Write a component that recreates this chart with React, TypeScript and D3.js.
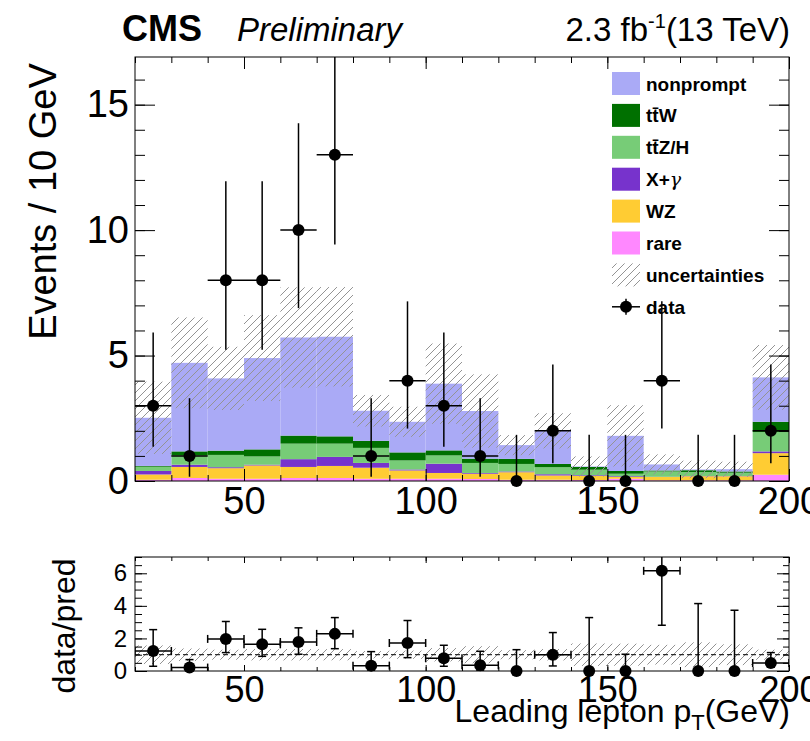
import React, { useEffect, useRef } from "react";
import * as d3 from "d3";

// bins of 10 GeV, lower edges
const binLow = [20, 30, 40, 50, 60, 70, 80, 90, 100, 110, 120, 130, 140, 150, 160, 170, 180, 190];

// stacked backgrounds (events / bin), bottom to top: rare, WZ, X+gamma, ttZ/H, ttW, nonprompt
const rare = [0.05, 0.12, 0.09, 0.09, 0.12, 0.12, 0.09, 0.09, 0.09, 0.08, 0.05, 0.05, 0.04, 0.09, 0.03, 0.03, 0.03, 0.25];
const wz = [0.21, 0.44, 0.42, 0.53, 0.44, 0.48, 0.44, 0.33, 0.23, 0.21, 0.3, 0.17, 0.16, 0.07, 0.13, 0.16, 0.16, 0.86];
const xGamma = [0.14, 0.09, 0.04, 0.03, 0.31, 0.36, 0.19, 0.04, 0.37, 0.03, 0.03, 0.05, 0.03, 0.03, 0.01, 0.01, 0.01, 0.07];
const ttZH = [0.17, 0.37, 0.49, 0.33, 0.62, 0.53, 0.6, 0.36, 0.33, 0.4, 0.3, 0.28, 0.22, 0.1, 0.21, 0.16, 0.13, 0.77];
const ttW = [0.03, 0.16, 0.17, 0.28, 0.32, 0.29, 0.28, 0.32, 0.2, 0.17, 0.2, 0.13, 0.11, 0.11, 0.04, 0.07, 0.05, 0.41];
const nonprompt = [1.92, 3.53, 2.88, 3.64, 3.91, 3.97, 1.2, 1.22, 2.66, 1.9, 0.55, 1.32, 0.02, 1.4, 0.24, 0.03, 0.09, 1.77];
const uncert = [1.44, 1.81, 1.26, 1.71, 2.0, 1.98, 0.63, 0.6, 1.6, 1.46, 0.4, 0.7, 0.4, 1.22, 0.4, 0.35, 0.3, 1.29];

// observed data with asymmetric (Poisson) errors
const dataCounts = [3, 1, 8, 8, 10, 13, 1, 4, 3, 1, 0, 2, 0, 0, 4, 0, 0, 2];
const dataErrLow = [1.63, 0.83, 2.77, 2.77, 3.11, 3.57, 0.83, 1.91, 1.63, 0.83, 0, 1.29, 0, 0, 1.91, 0, 0, 1.29];
const dataErrHigh = [2.92, 2.3, 3.95, 3.95, 4.26, 4.7, 2.3, 3.16, 2.92, 2.3, 1.84, 2.64, 1.84, 1.84, 3.16, 1.84, 1.84, 2.64];

// data / prediction as drawn in the lower panel
const ratioVal = [1.23, 0.21, 1.97, 1.64, 1.78, 2.28, 0.33, 1.72, 0.78, 0.35, 0, 1.0, 0, 0, 6.15, 0, 0, 0.49];
const ratioLow = [0.29, 0.04, 1.13, 0.9, 1.03, 1.37, 0.05, 0.82, 0.29, 0.05, 0, 0.31, 0, 0, 2.81, 0, 0, 0.25];
const ratioHigh = [2.54, 0.7, 3.04, 2.56, 2.65, 3.28, 1.19, 3.1, 1.58, 1.21, 1.31, 2.36, 3.28, 1.03, 10.8, 4.14, 3.73, 1.13];

const legendLabels = ["nonprompt", "ttW", "ttZ/H", "X+γ", "WZ", "rare", "uncertainties", "data"];
const xMajorTicks = [50, 100, 150, 200];
const xMinorTicks = [20, 30, 40, 50, 60, 70, 80, 90, 100, 110, 120, 130, 140, 150, 160, 170, 180, 190, 200];
const yMajorTicks = [0, 5, 10, 15];
const yMinorTicks = [0, 1, 2, 3, 4, 5, 6, 7, 8, 9, 10, 11, 12, 13, 14, 15, 16];
const rMajorTicks = [0, 2, 4, 6];
const rMinorTicks = [0, 0.5, 1, 1.5, 2, 2.5, 3, 3.5, 4, 4.5, 5, 5.5, 6, 6.5, 7];

const FONT = "'Liberation Sans', Arial, Helvetica, sans-serif";

const App = () => {
  const ref = useRef<SVGSVGElement>(null);

  useEffect(() => {
    const svg = d3.select(ref.current);
    svg.selectAll("*").remove();

    const W = 810, H = 741;
    const L = 135, R = 789;
    const mainTop = 57, mainBot = 481;
    const ratTop = 557, ratBot = 671;

    const x = d3.scaleLinear().domain([20, 200]).range([L, R]);
    const y = d3.scaleLinear().domain([0, 16.9]).range([mainBot, mainTop]);
    const yr = d3.scaleLinear().domain([0, 7]).range([ratBot, ratTop]);

    const colors: Record<string, string> = {
      rare: "#ff88ff",
      wz: "#ffcc33",
      xGamma: "#7733cc",
      ttZH: "#77cc77",
      ttW: "#007000",
      nonprompt: "#aaaaf6",
    };
    const keys = ["rare", "wz", "xGamma", "ttZH", "ttW", "nonprompt"];
    const rows = binLow.map((lo, i) => ({
      lo,
      rare: rare[i],
      wz: wz[i],
      xGamma: xGamma[i],
      ttZH: ttZH[i],
      ttW: ttW[i],
      nonprompt: nonprompt[i],
    }));
    const series = d3.stack<any>().keys(keys)(rows);
    const totals = rows.map((r) => keys.reduce((s, k) => s + (r as any)[k], 0));

    svg.attr("width", W).attr("height", H).style("background", "#fff");

    const defs = svg.append("defs");
    const pat = defs
      .append("pattern")
      .attr("id", "hatch")
      .attr("patternUnits", "userSpaceOnUse")
      .attr("width", 8)
      .attr("height", 8);
    pat
      .append("path")
      .attr("d", "M-2,2 L2,-2 M0,8 L8,0 M6,10 L10,6")
      .attr("stroke", "#949494")
      .attr("stroke-width", 1);
    defs
      .append("clipPath")
      .attr("id", "clipMain")
      .append("rect")
      .attr("x", L)
      .attr("y", mainTop)
      .attr("width", R - L)
      .attr("height", mainBot - mainTop);
    defs
      .append("clipPath")
      .attr("id", "clipRat")
      .append("rect")
      .attr("x", L)
      .attr("y", ratTop)
      .attr("width", R - L)
      .attr("height", ratBot - ratTop);

    // ---- main panel: stacked histogram
    const main = svg.append("g");
    main
      .append("g")
      .selectAll("g")
      .data(series)
      .join("g")
      .attr("fill", (d) => colors[d.key])
      .selectAll("rect")
      .data((d) => d)
      .join("rect")
      .attr("x", (d: any) => x(d.data.lo))
      .attr("width", (d: any) => x(d.data.lo + 10) - x(d.data.lo))
      .attr("y", (d) => y(d[1]))
      .attr("height", (d) => y(d[0]) - y(d[1]));

    main
      .append("g")
      .attr("clip-path", "url(#clipMain)")
      .selectAll("rect")
      .data(binLow)
      .join("rect")
      .attr("x", (d) => x(d))
      .attr("width", (d) => x(d + 10) - x(d))
      .attr("y", (d, i) => y(totals[i] + uncert[i]))
      .attr("height", (d, i) => y(Math.max(0, totals[i] - uncert[i])) - y(totals[i] + uncert[i]))
      .attr("fill", "url(#hatch)");

    // data points
    const pts = main.append("g");
    const errG = pts.append("g").attr("clip-path", "url(#clipMain)").attr("stroke", "#000").attr("stroke-width", 1.5);
    binLow.forEach((lo, i) => {
      const cx = x(lo + 5);
      const n = dataCounts[i];
      errG
        .append("line")
        .attr("x1", cx)
        .attr("x2", cx)
        .attr("y1", y(n - dataErrLow[i]))
        .attr("y2", y(n + dataErrHigh[i]));
      if (n > 0) {
        errG.append("line").attr("x1", x(lo)).attr("x2", x(lo + 10)).attr("y1", y(n)).attr("y2", y(n));
      }
    });
    pts
      .selectAll("circle")
      .data(dataCounts)
      .join("circle")
      .attr("cx", (d, i) => x(binLow[i] + 5))
      .attr("cy", (d) => y(d))
      .attr("r", 6)
      .attr("fill", "#000");

    // frame + axes main
    const axisStyle = (g: any) => {
      g.select(".domain").remove();
      g.selectAll("line").attr("stroke", "#000").attr("stroke-width", 1);
      g.attr("font-family", FONT);
    };
    svg
      .append("g")
      .attr("transform", `translate(${L},0)`)
      .call(d3.axisLeft(y).tickValues(yMinorTicks).tickSize(-10).tickFormat(() => ""))
      .call(axisStyle);
    svg
      .append("g")
      .attr("transform", `translate(${L},0)`)
      .call(d3.axisLeft(y).tickValues(yMajorTicks).tickSize(-20).tickPadding(6).tickFormat(d3.format("d")))
      .call(axisStyle)
      .selectAll("text")
      .attr("font-size", 38)
      .attr("fill", "#000");
    svg
      .append("g")
      .attr("transform", `translate(${R},0)`)
      .call(d3.axisRight(y).tickValues(yMinorTicks).tickSize(-10).tickFormat(() => ""))
      .call(axisStyle);
    svg
      .append("g")
      .attr("transform", `translate(${R},0)`)
      .call(d3.axisRight(y).tickValues(yMajorTicks).tickSize(-20).tickFormat(() => ""))
      .call(axisStyle);
    [mainTop, mainBot].forEach((yy) => {
      const top = yy === mainTop;
      const ax = top ? d3.axisTop(x) : d3.axisBottom(x);
      svg
        .append("g")
        .attr("transform", `translate(0,${yy})`)
        .call(ax.tickValues(xMinorTicks).tickSize(-6).tickFormat(() => ""))
        .call(axisStyle);
      const ax2 = top ? d3.axisTop(x) : d3.axisBottom(x);
      const g = svg
        .append("g")
        .attr("transform", `translate(0,${yy})`)
        .call(ax2.tickValues(xMajorTicks).tickSize(-12).tickPadding(6).tickFormat(top ? () => "" : d3.format("d")))
        .call(axisStyle);
      g.selectAll("text").attr("font-size", 38).attr("fill", "#000");
    });
    svg
      .append("rect")
      .attr("x", L)
      .attr("y", mainTop)
      .attr("width", R - L)
      .attr("height", mainBot - mainTop)
      .attr("fill", "none")
      .attr("stroke", "#000")
      .attr("stroke-width", 1);

    // ---- legend
    const leg = svg.append("g").attr("font-family", FONT).attr("font-weight", "bold").attr("font-size", 19);
    const legFill = ["nonprompt", "ttW", "ttZH", "xGamma", "wz", "rare"];
    legendLabels.forEach((lab, i) => {
      const cy = 83.5 + i * 31.9;
      if (i < 6) {
        leg.append("rect").attr("x", 612).attr("y", cy - 11.5).attr("width", 28).attr("height", 23).attr("fill", colors[legFill[i]]);
      } else if (i === 6) {
        leg.append("rect").attr("x", 612).attr("y", cy - 11.5).attr("width", 28).attr("height", 23).attr("fill", "url(#hatch)");
      } else {
        leg.append("line").attr("x1", 612).attr("x2", 640).attr("y1", cy).attr("y2", cy).attr("stroke", "#000").attr("stroke-width", 1.5);
        leg.append("line").attr("x1", 626).attr("x2", 626).attr("y1", cy - 8).attr("y2", cy + 8).attr("stroke", "#000").attr("stroke-width", 1.5);
        leg.append("circle").attr("cx", 626).attr("cy", cy).attr("r", 6).attr("fill", "#000");
      }
      const t = leg.append("text").attr("x", 646).attr("y", cy + 7).attr("fill", "#000");
      if (lab === "ttW" || lab === "ttZ/H") {
        t.text("tt\u0304" + lab.slice(2));
      } else if (lab === "X+γ") {
        t.text("X+");
        t.append("tspan").attr("font-weight", "normal").attr("font-family", "'DejaVu Serif', serif").attr("font-style", "italic").text("γ");
      } else {
        t.text(lab);
      }
    });

    // ---- titles
    const txt = svg.append("g").attr("font-family", FONT).attr("fill", "#000");
    txt.append("text").attr("x", 122).attr("y", 41).attr("font-size", 36).attr("font-weight", "bold").text("CMS");
    txt.append("text").attr("x", 237).attr("y", 41).attr("font-size", 33).attr("font-style", "italic").text("Preliminary");
    const lumi = txt.append("text").attr("x", 790).attr("y", 41).attr("font-size", 33).attr("text-anchor", "end");
    lumi.append("tspan").text("2.3 fb");
    lumi.append("tspan").attr("font-size", 20).attr("dy", -13).text("-1");
    lumi.append("tspan").attr("dy", 13).text("(13 TeV)");
    txt
      .append("text")
      .attr("transform", `translate(56,${(mainTop + 340) / 2 + 3}) rotate(-90)`)
      .attr("text-anchor", "middle")
      .attr("font-size", 38)
      .text("Events / 10 GeV");
    txt
      .append("text")
      .attr("transform", `translate(75,${(ratTop + ratBot) / 2 + 12}) rotate(-90)`)
      .attr("text-anchor", "middle")
      .attr("font-size", 32)
      .text("data/pred");
    const xt = txt.append("text").attr("x", 790).attr("y", 722).attr("text-anchor", "end").attr("font-size", 32);
    xt.append("tspan").text("Leading lepton p");
    xt.append("tspan").attr("font-size", 22).attr("dy", 8).text("T");
    xt.append("tspan").attr("dy", -8).text("(GeV)");

    // ---- ratio panel
    const rat = svg.append("g");
    rat
      .append("g")
      .attr("clip-path", "url(#clipRat)")
      .selectAll("rect")
      .data(binLow)
      .join("rect")
      .attr("x", (d) => x(d))
      .attr("width", (d) => x(d + 10) - x(d))
      .attr("y", (d, i) => yr(1 + uncert[i] / totals[i]))
      .attr("height", (d, i) => yr(Math.max(0, 1 - uncert[i] / totals[i])) - yr(1 + uncert[i] / totals[i]))
      .attr("fill", "url(#hatch)");
    rat
      .append("line")
      .attr("x1", L)
      .attr("x2", R)
      .attr("y1", yr(1))
      .attr("y2", yr(1))
      .attr("stroke", "#000")
      .attr("stroke-width", 1)
      .attr("stroke-dasharray", "5,3");
    const rErr = rat.append("g").attr("clip-path", "url(#clipRat)").attr("stroke", "#000").attr("stroke-width", 1.5);
    binLow.forEach((lo, i) => {
      const cx = x(lo + 5);
      const v = ratioVal[i];
      rErr.append("line").attr("x1", cx).attr("x2", cx).attr("y1", yr(ratioLow[i])).attr("y2", yr(ratioHigh[i]));
      rErr.append("line").attr("x1", cx - 4).attr("x2", cx + 4).attr("y1", yr(ratioHigh[i])).attr("y2", yr(ratioHigh[i]));
      if (v > 0) {
        rErr.append("line").attr("x1", cx - 4).attr("x2", cx + 4).attr("y1", yr(ratioLow[i])).attr("y2", yr(ratioLow[i]));
        rErr.append("line").attr("x1", x(lo)).attr("x2", x(lo + 10)).attr("y1", yr(v)).attr("y2", yr(v));
        rErr.append("line").attr("x1", x(lo)).attr("x2", x(lo)).attr("y1", yr(v) - 4).attr("y2", yr(v) + 4);
        rErr.append("line").attr("x1", x(lo + 10)).attr("x2", x(lo + 10)).attr("y1", yr(v) - 4).attr("y2", yr(v) + 4);
      }
    });
    rat
      .selectAll("circle")
      .data(ratioVal)
      .join("circle")
      .attr("cx", (d, i) => x(binLow[i] + 5))
      .attr("cy", (d) => yr(d))
      .attr("r", 6)
      .attr("fill", "#000");

    svg
      .append("g")
      .attr("transform", `translate(${L},0)`)
      .call(d3.axisLeft(yr).tickValues(rMinorTicks).tickSize(-7).tickFormat(() => ""))
      .call(axisStyle);
    svg
      .append("g")
      .attr("transform", `translate(${L},0)`)
      .call(d3.axisLeft(yr).tickValues(rMajorTicks).tickSize(-12).tickPadding(8).tickFormat(d3.format("d")))
      .call(axisStyle)
      .selectAll("text")
      .attr("font-size", 24)
      .attr("fill", "#000");
    svg
      .append("g")
      .attr("transform", `translate(${R},0)`)
      .call(d3.axisRight(yr).tickValues(rMinorTicks).tickSize(-6).tickFormat(() => ""))
      .call(axisStyle);
    svg
      .append("g")
      .attr("transform", `translate(${R},0)`)
      .call(d3.axisRight(yr).tickValues(rMajorTicks).tickSize(-12).tickFormat(() => ""))
      .call(axisStyle);
    [ratTop, ratBot].forEach((yy) => {
      const top = yy === ratTop;
      const ax = top ? d3.axisTop(x) : d3.axisBottom(x);
      svg
        .append("g")
        .attr("transform", `translate(0,${yy})`)
        .call(ax.tickValues(xMinorTicks).tickSize(-4).tickFormat(() => ""))
        .call(axisStyle);
      const ax2 = top ? d3.axisTop(x) : d3.axisBottom(x);
      const g = svg
        .append("g")
        .attr("transform", `translate(0,${yy})`)
        .call(ax2.tickValues(xMajorTicks).tickSize(-6).tickPadding(5).tickFormat(top ? () => "" : d3.format("d")))
        .call(axisStyle);
      g.selectAll("text").attr("font-size", 36).attr("fill", "#000");
    });
    svg
      .append("rect")
      .attr("x", L)
      .attr("y", ratTop)
      .attr("width", R - L)
      .attr("height", ratBot - ratTop)
      .attr("fill", "none")
      .attr("stroke", "#000")
      .attr("stroke-width", 1);
  }, []);

  return <svg ref={ref} width={810} height={741} style={{ position: "absolute", left: 0, top: 0 }} />;
};

export default App;
